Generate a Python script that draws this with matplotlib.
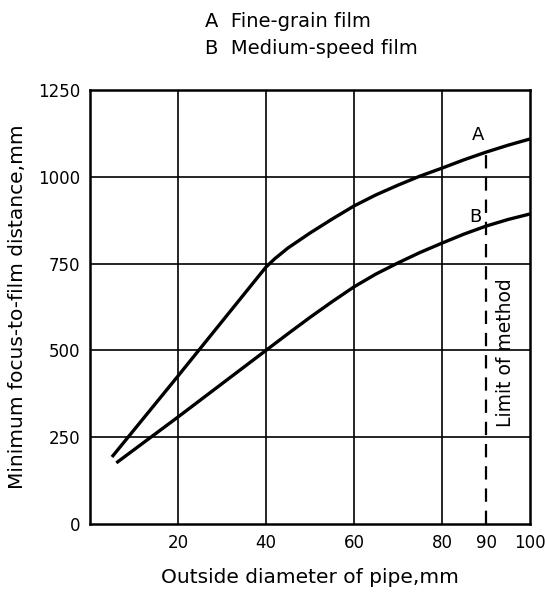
import matplotlib
matplotlib.use("Agg")
import matplotlib.pyplot as plt

# Data
a_x = [5, 20, 40, 42, 45, 50, 55, 60, 65, 70, 75, 80, 85, 90, 95, 100]
a_y = [193, 426, 740, 764, 795, 838, 878, 916, 948, 976, 1002, 1025, 1049, 1071, 1091, 1109]
b_x = [6, 20, 40, 45, 50, 55, 60, 65, 70, 75, 80, 85, 90, 95, 100]
b_y = [176, 308, 500, 548, 595, 640, 683, 720, 752, 782, 809, 835, 858, 877, 893]
x_ticks = [20, 40, 60, 80, 90, 100]
y_ticks = [0, 250, 500, 750, 1000, 1250]
x_grid = [20, 40, 60, 80]
y_grid = [250, 500, 750, 1000]
limit_x = 90
limit_top = 1071

plt.rcParams['font.family'] = ['DejaVu Sans']
fig = plt.figure(figsize=(5.45, 5.93), dpi=100)
ax = fig.add_axes([0.165, 0.1164, 0.8075, 0.7318])
ax.set_xlim(0, 100)
ax.set_ylim(0, 1250)

for gx in x_grid:
    ax.axvline(gx, color='black', lw=1.2, zorder=1)
for gy in y_grid:
    ax.axhline(gy, color='black', lw=1.2, zorder=1)

ax.plot(a_x, a_y, color='black', lw=2.4, solid_capstyle='butt',
        solid_joinstyle='round', zorder=3)
ax.plot(b_x, b_y, color='black', lw=2.4, solid_capstyle='butt',
        solid_joinstyle='round', zorder=3)
ax.plot([limit_x, limit_x], [0, limit_top], color='black', lw=1.6,
        dashes=(6, 4), zorder=2)

ax.text(88.2, 1095, 'A', fontsize=13, ha='center', va='bottom')
ax.text(87.6, 884, 'B', fontsize=13, ha='center', va='center')
ax.text(94.4, 495, 'Limit of method', fontsize=13.5, rotation=90,
        ha='center', va='center')

ax.set_xticks(x_ticks)
ax.set_yticks(y_ticks)
ax.tick_params(length=0, labelsize=12, pad=7)
for s in ax.spines.values():
    s.set_linewidth(1.8)

ax.set_xlabel('Outside diameter of pipe,mm', fontsize=14.5, labelpad=12)
ax.set_ylabel('Minimum focus-to-film distance,mm', fontsize=14.5, labelpad=8)

fig.text(0.376, 0.963, 'A  Fine-grain film', fontsize=14, ha='left', va='center')
fig.text(0.376, 0.918, 'B  Medium-speed film', fontsize=14, ha='left', va='center')

fig.savefig('out.png', dpi=100)
